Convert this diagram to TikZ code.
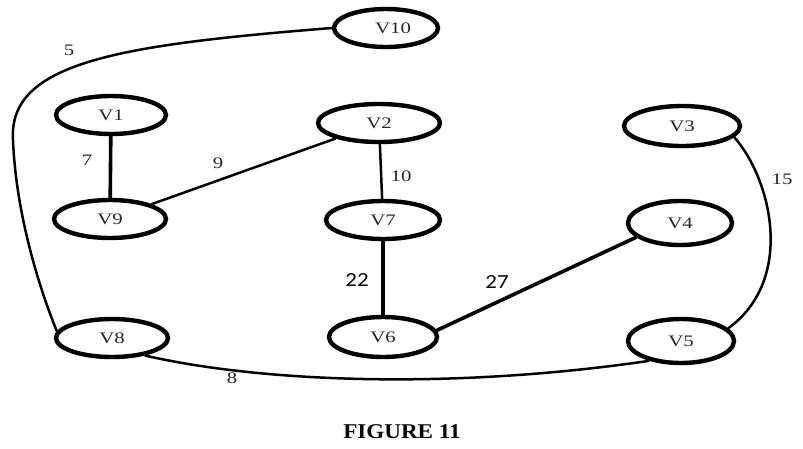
\documentclass[tikz,border=0pt]{standalone}
\usepackage{fontspec}
\usepackage{graphicx}
\setmainfont{Liberation Serif}
\newfontfamily\calib{Carlito}
\usetikzlibrary{shapes.geometric,backgrounds}
\newcommand{\vtxt}[1]{\scalebox{1.3}[1]{#1}}
\tikzset{
  vnode/.style={ellipse, draw=black, line width=4.4pt, fill=white, inner sep=0pt,
    font=\fontsize{16}{16}\selectfont, text=black!85},
  edge/.style={line width=2.5pt, black},
  thickedge/.style={line width=3.6pt, black},
  wlabel/.style={font=\fontsize{16}{16}\selectfont, inner sep=0pt, text=black!85},
  slabel/.style={font=\calib\fontsize{20}{20}\selectfont, inner sep=0pt},
}
\begin{document}
\begin{tikzpicture}[x=1pt,y=-1pt]
\useasboundingbox (0,0) rectangle (803,448);
% nodes
\node[vnode, minimum width=104pt, minimum height=38pt] (V10) at (386,28) {\hspace*{14pt}\vtxt{V10}};
\node[vnode, minimum width=110pt, minimum height=38pt] (V1) at (111,115) {\vtxt{V1}};
\node[vnode, minimum width=122pt, minimum height=38pt] (V2) at (379,123) {\vtxt{V2}};
\node[vnode, minimum width=116pt, minimum height=40pt] (V3) at (682,126) {\vtxt{V3}};
\node[vnode, minimum width=112pt, minimum height=38pt] (V9) at (110,219) {\vtxt{V9}};
\node[vnode, minimum width=114pt, minimum height=38pt] (V7) at (383,220) {\vtxt{V7}};
\node[vnode, minimum width=104pt, minimum height=44pt] (V4) at (680,223) {\vtxt{V4}};
\node[vnode, minimum width=112pt, minimum height=38pt] (V8) at (112,338) {\vtxt{V8}};
\node[vnode, minimum width=108pt, minimum height=40pt] (V6) at (383,337) {\vtxt{V6}};
\node[vnode, minimum width=106pt, minimum height=44pt] (V5) at (681,341) {\vtxt{V5}};
% edges
\begin{pgfonlayer}{background}
\fill[white] (0,0) rectangle (803,448);
\draw[edge] (V10.west) .. controls (120,45) and (8,62) .. (13,140)
            .. controls (16,215) and (40,290) .. (V8.173);
\draw[thickedge] (V1) -- (V9);
\draw[edge] (V9) -- (V2);
\draw[edge] (V2) -- (V7);
\draw[thickedge] (V7) -- (V6);
\draw[thickedge] (V6.7) -- (V4.198);
\draw[edge] (V3.-12) .. controls (772,180) and (795,280) .. (V5.15);
\draw[edge] (V8.-28) .. controls (260,382) and (450,390) .. (V5.-148);
\end{pgfonlayer}
% labels
\node[wlabel] (l5) at (69,50) {\vtxt{5}};
\node[wlabel] (l7) at (87,160) {\vtxt{7}};
\node[wlabel] (l9) at (218,163) {\vtxt{9}};
\node[wlabel] (l10) at (401,176) {\vtxt{10}};
\node[wlabel] (l15) at (782,179) {\vtxt{15}};
\node[wlabel] (l8) at (232,378) {\vtxt{8}};
\node[slabel] (l22) at (357,280) {\scalebox{1.15}[1]{22}};
\node[slabel] (l27) at (497,282) {\scalebox{1.15}[1]{27}};
\node[font=\bfseries\fontsize{21}{21}\selectfont, inner sep=0pt] (cap) at (402,432) {\scalebox{1.1}[1]{FIGURE 11}};
\end{tikzpicture}
\end{document}
